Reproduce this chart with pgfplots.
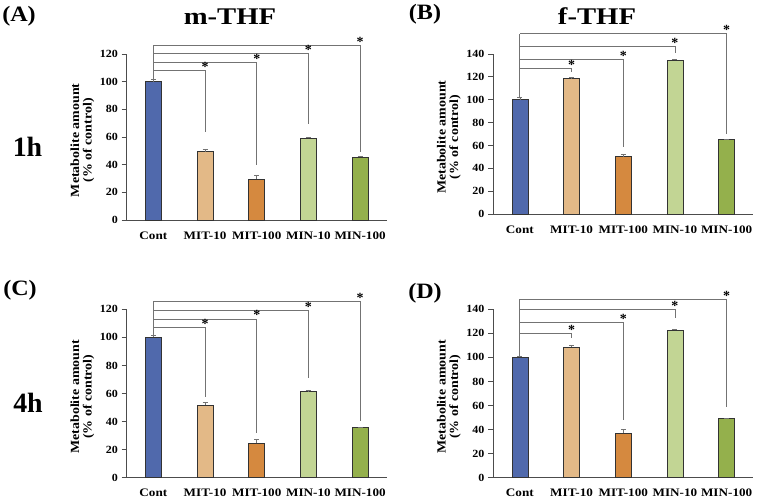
\documentclass[border=0pt]{standalone}
\usepackage{fontspec}
\setmainfont{Liberation Serif}
\newfontfamily\ytfam{Liberation Serif}[FakeStretch=1.1]
\newfontfamily\xtfam{Liberation Serif}[FakeStretch=1.15]
\newfontfamily\labfam{Liberation Serif}[FakeStretch=1.12]
\newfontfamily\titfam{Liberation Serif}[FakeStretch=1.2]
\newfontfamily\panfam{Liberation Serif}[FakeStretch=1.1]
\usepackage{pgfplots}
\pgfplotsset{compat=1.18}

\definecolor{cCont}{RGB}{80,105,172}
\definecolor{cMITa}{RGB}{227,185,135}
\definecolor{cMITb}{RGB}{213,137,63}
\definecolor{cMINa}{RGB}{194,213,148}
\definecolor{cMINb}{RGB}{148,176,76}

\pgfplotsset{
  panel/.style={
    scale only axis, width=260bp, xmin=-0.52, xmax=4.51, ymin=0,
    anchor=south west, clip=false,
    axis x line*=bottom, axis y line*=left,
    axis line style={black!70, line width=0.8bp, -},
    xtick={0,1,2,3,4}, xticklabels={Cont,MIT-10,MIT-100,MIN-10,MIN-100},
    x tick style={draw=none},
    y tick style={black!70, line width=0.8bp},
    tick align=outside, major tick length=5bp,
    /pgf/number format/assume math mode=true,
    yticklabel style={font=\ytfam\bfseries\fontsize{11}{12}\selectfont},
    xticklabel style={font=\xtfam\bfseries\fontsize{11.5}{13}\selectfont, yshift=-3bp},
    ylabel={Metabolite amount\\(\% of control)},
    every axis y label/.style={at={(axis description cs:-0.17,0.48)}, rotate=90, anchor=center,
      align=center, font=\labfam\bfseries\fontsize{12.5}{12.5}\selectfont},
  },
  bb/.style={ybar, bar width=16bp, bar shift=0pt, fill=#1, draw=black!80, line width=0.75bp,
    error bars/.cd, y dir=plus, y explicit,
    error bar style={black!55, line width=0.7bp},
    error mark options={rotate=90, black!55, mark size=2.5bp, line width=0.7bp}},
  brk/.style={black!55, line width=0.8bp, mark=none, sharp plot},
}
\tikzset{st/.style={anchor=base, inner sep=0pt, font=\bfseries\fontsize{14}{14}\selectfont, yshift=-1bp}}

\begin{document}
\begin{tikzpicture}[x=1bp,y=1bp]
\useasboundingbox (0,0) rectangle (757,501);

% ---------- (A) m-THF 1h ----------
\begin{axis}[panel, at={(126.5bp,281bp)}, height=166bp, ymax=120, ytick={0,20,...,120}]
\addplot[bb=cCont] coordinates {(0,100) +- (0,1.5)};
\addplot[bb=cMITa] coordinates {(1,49.5) +- (0,1.5)};
\addplot[bb=cMITb] coordinates {(2,29.5) +- (0,2.5)};
\addplot[bb=cMINa] coordinates {(3,59) +- (0,0.7)};
\addplot[bb=cMINb] coordinates {(4,45.5) +- (0,0.5)};
\addplot[brk] coordinates {(0,101.5) (0,126.1)};
\addplot[brk] coordinates {(0,108.3) (1,108.3) (1,63.6)};
\addplot[brk] coordinates {(0,114.2) (2,114.2) (2,39.8)};
\addplot[brk] coordinates {(0,120.7) (3,120.7) (3,69.7)};
\addplot[brk] coordinates {(0,126.1) (4,126.1) (4,49.5)};
\node[st] at (axis cs:1,108.3) {*};
\node[st] at (axis cs:2,114.2) {*};
\node[st] at (axis cs:3,120.7) {*};
\node[st] at (axis cs:4,126.1) {*};
\end{axis}

% ---------- (B) f-THF 1h ----------
\begin{axis}[panel, at={(493bp,287bp)}, height=160bp, ymax=140, ytick={0,20,...,140}]
\addplot[bb=cCont] coordinates {(0,100) +- (0,2)};
\addplot[bb=cMITa] coordinates {(1,118.3) +- (0,1.5)};
\addplot[bb=cMITb] coordinates {(2,50) +- (0,2.5)};
\addplot[bb=cMINa] coordinates {(3,134.4) +- (0,1)};
\addplot[bb=cMINb] coordinates {(4,65.3) +- (0,0.4)};
\addplot[brk] coordinates {(0,102.5) (0,157.6)};
\addplot[brk] coordinates {(0,127.1) (1,127.1) (1,123.9)};
\addplot[brk] coordinates {(0,135.6) (2,135.6) (2,58.7)};
\addplot[brk] coordinates {(0,146.8) (3,146.8) (3,141)};
\addplot[brk] coordinates {(0,157.6) (4,157.6) (4,70.4)};
\node[st] at (axis cs:1,127.1) {*};
\node[st] at (axis cs:2,135.6) {*};
\node[st] at (axis cs:3,146.8) {*};
\node[st] at (axis cs:4,157.6) {*};
\end{axis}

% ---------- (C) m-THF 4h ----------
\begin{axis}[panel, at={(126.5bp,23.3bp)}, height=168.4bp, ymax=120, ytick={0,20,...,120}]
\addplot[bb=cCont] coordinates {(0,100) +- (0,1.5)};
\addplot[bb=cMITa] coordinates {(1,51.8) +- (0,1.8)};
\addplot[bb=cMITb] coordinates {(2,24.5) +- (0,2.8)};
\addplot[bb=cMINa] coordinates {(3,61.3) +- (0,1.2)};
\addplot[bb=cMINb] coordinates {(4,35.8) +- (0,0.4)};
\addplot[brk] coordinates {(0,101.5) (0,125.5)};
\addplot[brk] coordinates {(0,107.2) (1,107.2) (1,57.5)};
\addplot[brk] coordinates {(0,113.1) (2,113.1) (2,31.6)};
\addplot[brk] coordinates {(0,119.3) (3,119.3) (3,71.3)};
\addplot[brk] coordinates {(0,125.5) (4,125.5) (4,40.6)};
\node[st] at (axis cs:1,107.2) {*};
\node[st] at (axis cs:2,113.1) {*};
\node[st] at (axis cs:3,119.3) {*};
\node[st] at (axis cs:4,125.5) {*};
\end{axis}

% ---------- (D) f-THF 4h ----------
\begin{axis}[panel, at={(493bp,23.3bp)}, height=168.4bp, ymax=140, ytick={0,20,...,140}]
\addplot[bb=cCont] coordinates {(0,100) +- (0,1)};
\addplot[bb=cMITa] coordinates {(1,108.7) +- (0,1.6)};
\addplot[bb=cMITb] coordinates {(2,37.1) +- (0,2.8)};
\addplot[bb=cMINa] coordinates {(3,122.5) +- (0,0.9)};
\addplot[bb=cMINb] coordinates {(4,49.1) +- (0,0.3)};
\addplot[brk] coordinates {(0,101) (0,148.3)};
\addplot[brk] coordinates {(0,120) (1,120) (1,116.2)};
\addplot[brk] coordinates {(0,129.2) (2,129.2) (2,48)};
\addplot[brk] coordinates {(0,139.5) (3,139.5) (3,132.5)};
\addplot[brk] coordinates {(0,148.3) (4,148.3) (4,59)};
\node[st] at (axis cs:1,120) {*};
\node[st] at (axis cs:2,129.2) {*};
\node[st] at (axis cs:3,139.5) {*};
\node[st] at (axis cs:4,148.3) {*};
\end{axis}

% ---------- panel labels and titles ----------
\node[font=\panfam\bfseries\fontsize{22}{24}\selectfont] at (19,485) {(A)};
\node[font=\panfam\bfseries\fontsize{22}{24}\selectfont] at (425,487) {(B)};
\node[font=\panfam\bfseries\fontsize{22}{24}\selectfont] at (20,211) {(C)};
\node[font=\panfam\bfseries\fontsize{22}{24}\selectfont] at (425,208) {(D)};
\node[anchor=base, inner sep=0pt, font=\titfam\bfseries\fontsize{24}{26}\selectfont] at (230,476) {m-THF};
\node[anchor=base, inner sep=0pt, font=\titfam\bfseries\fontsize{24}{26}\selectfont] at (597,476) {f-THF};
\node[anchor=base, inner sep=0pt, font=\bfseries\fontsize{28}{30}\selectfont] at (27.5,344) {1h};
\node[anchor=base, inner sep=0pt, font=\bfseries\fontsize{28}{30}\selectfont] at (28,88) {4h};
\end{tikzpicture}
\end{document}
